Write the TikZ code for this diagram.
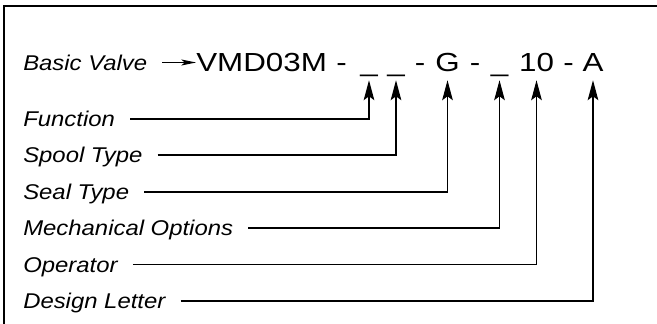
\documentclass[tikz,border=0pt]{standalone}
\usepackage{fontspec}
\setmainfont{Liberation Sans}[FakeStretch=1.2]
\newfontfamily\labelfont{Liberation Sans}[FakeStretch=1.12]
\usetikzlibrary{arrows.meta}

\begin{document}
\begin{tikzpicture}[x=0.75pt,y=0.75pt,yscale=-1,xscale=1,
  lbl/.style={font=\labelfont\itshape\fontsize{16}{19}\selectfont, anchor=west, inner xsep=11.25pt, inner ysep=0pt, text height=11.4pt, text depth=0pt},
  code/.style={font=\fontsize{19.6}{24}\selectfont, anchor=base, inner sep=0pt, text depth=6pt},
  lead/.style={line width=0.85pt, -{Stealth[length=15pt,width=8pt,inset=3pt]}},
  feed/.style={line width=0.85pt, -{Stealth[length=11pt,width=4.5pt,inset=2.5pt]}}]
\useasboundingbox (0,0) rectangle (657,324);

%Shape: Frame, top and left sides only
\draw [line width=1.5pt] (657,6.5) -- (4.3,6.5) -- (4.3,324) ;

% Text Node: model code
\node [code, anchor=base west] (vmd) at (196,72) {VMD03M};
\node [code] (d1) at (341.5,72) {-};
\node [code] (b1) at (369,72) {\_};
\node [code] (b2) at (396,72) {\_};
\node [code] (d2) at (420,72) {-};
\node [code] (g) at (447.5,72) {G};
\node [code] (d3) at (475,72) {-};
\node [code] (b3) at (499.5,72) {\_};
\node [code] (ten) at (536.5,72) {10};
\node [code] (d4) at (568.5,72) {-};
\node [code] (a) at (593,72) {A};

% Text Node: labels
\node [lbl] (basic) at (8,62.5) {Basic Valve};
\node [lbl] (fn) at (8,119) {Function};
\node [lbl] (spool) at (8,155) {Spool Type};
\node [lbl] (seal) at (8,192) {Seal Type};
\node [lbl] (mech) at (8,228) {Mechanical Options};
\node [lbl] (oper) at (8,264.5) {Operator};
\node [lbl] (design) at (8,301) {Design Letter};

%Straight Lines
\draw [feed] (basic.east) -- (basic.east -| vmd.west) ;
\draw [lead] (fn.east) -| (b1.south) ;
\draw [lead] (spool.east) -| (b2.south) ;
\draw [lead] (seal.east) -| (g.south) ;
\draw [lead] (mech.east) -| (b3.south) ;
\draw [lead] (oper.east) -| (ten.south) ;
\draw [lead] (design.east) -| (a.south) ;

\end{tikzpicture}
\end{document}
